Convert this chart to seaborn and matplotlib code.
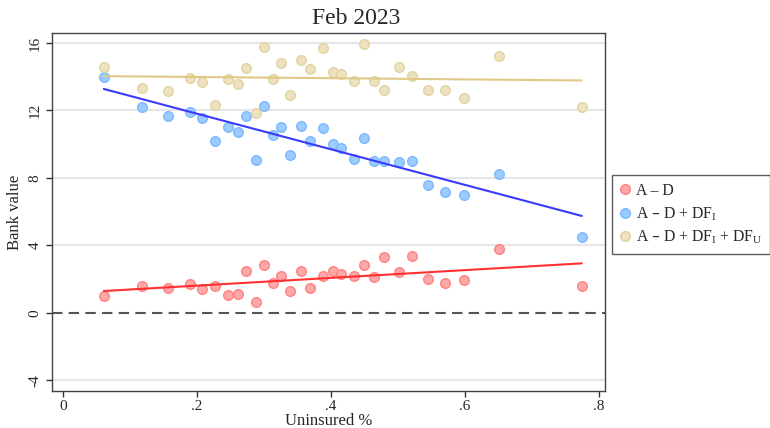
import numpy as np
import pandas as pd
import matplotlib.pyplot as plt
import seaborn as sns
from matplotlib.lines import Line2D

# uninsured share (x) and the three bank value series
uninsured = [0.061, 0.118, 0.157, 0.190, 0.207, 0.227, 0.247, 0.261, 0.274, 0.288,
             0.301, 0.313, 0.326, 0.339, 0.355, 0.369, 0.388, 0.403, 0.416, 0.434,
             0.450, 0.465, 0.480, 0.502, 0.522, 0.546, 0.571, 0.599, 0.651, 0.775]
a_minus_d = [0.99, 1.58, 1.46, 1.72, 1.42, 1.58, 1.07, 1.13, 2.47, 0.67,
             2.83, 1.74, 2.17, 1.30, 2.47, 1.48, 2.17, 2.51, 2.29, 2.19,
             2.83, 2.11, 3.30, 2.43, 3.40, 2.03, 1.76, 1.92, 3.77, 1.62]
plus_dfi = [13.99, 12.19, 11.69, 11.93, 11.56, 10.21, 11.02, 10.71, 11.65, 9.07,
            12.27, 10.55, 11.04, 9.38, 11.06, 10.19, 10.94, 10.00, 9.76, 9.15,
            10.35, 8.99, 9.00, 8.93, 9.00, 7.59, 7.15, 6.99, 8.22, 4.50]
plus_dfu = [14.60, 13.31, 13.16, 13.95, 13.71, 12.33, 13.87, 13.59, 14.54, 11.85,
            15.74, 13.85, 14.80, 12.90, 14.99, 14.46, 15.72, 14.28, 14.14, 13.77,
            15.96, 13.77, 13.19, 14.60, 14.02, 13.19, 13.19, 12.74, 15.25, 12.21]

labels = ["A – D", "A – D + DF$_{I}$", "A – D + DF$_{I}$ + DF$_{U}$"]
fills = ["#ffa8a8", "#9ccbff", "#ece2bf"]
edges = ["#ff8282", "#7cb8ff", "#e2d39f"]
lines = ["#ff3030", "#3a3aff", "#e0c887"]

df = pd.DataFrame({
    "x": uninsured * 3,
    "y": a_minus_d + plus_dfi + plus_dfu,
    "series": np.repeat(labels, len(uninsured)),
})

sns.set_theme(style="white")
plt.rcParams["font.family"] = ["Liberation Serif", "DejaVu Serif"]
plt.rcParams["mathtext.default"] = "regular"

fig = plt.figure(figsize=(7.7, 4.28), dpi=100)
ax = fig.add_axes([0.067, 0.087, 0.719, 0.835])

# grid + zero line
for yv in [-4, 4, 8, 12, 16]:
    ax.axhline(yv, color="#e6e6e6", lw=1.5, zorder=0)
ax.axhline(0, color="#555555", lw=1.5, ls=(0, (5, 3)), zorder=1)

for lab, fc, ec in zip(labels, fills, edges):
    sub = df[df["series"] == lab]
    sns.scatterplot(data=sub, x="x", y="y", color=fc, edgecolor=ec, linewidth=1,
                    s=48, ax=ax, zorder=2, legend=False)
for lab, lc in zip(labels, lines):
    sub = df[df["series"] == lab]
    sns.regplot(data=sub, x="x", y="y", scatter=False, ci=None, color=lc,
                line_kws=dict(lw=1.5, zorder=3), ax=ax)

ax.set_xlim(-0.017, 0.81)
ax.set_ylim(-4.62, 16.57)
ax.set_xticks([0, 0.2, 0.4, 0.6, 0.8])
ax.set_xticklabels(["0", ".2", ".4", ".6", ".8"])
ax.set_yticks([-4, 0, 4, 8, 12, 16])
ax.set_yticklabels(["-4", "0", "4", "8", "12", "16"], rotation=90, va="center")
ax.tick_params(axis="both", length=4, width=1, color="#333333", labelsize=11,
               direction="out", bottom=True, left=True, pad=3)
ax.set_xlabel("Uninsured %", fontsize=12, labelpad=0)
ax.set_ylabel("Bank value", fontsize=12, labelpad=4)
fig.text(356 / 770, 1 - 18 / 428, "Feb 2023", fontsize=17, ha="center", va="center")
for sp in ax.spines.values():
    sp.set_color("#444444")
    sp.set_linewidth(1)

leg_handles = [Line2D([], [], marker="o", ls="", markersize=7, markerfacecolor=fc,
                      markeredgecolor=ec, markeredgewidth=1)
               for fc, ec in zip(fills, edges)]
leg = fig.legend(leg_handles, labels, loc="upper left",
                 bbox_to_anchor=(612 / 770, 1 - 175 / 428), frameon=True,
                 fancybox=False, fontsize=11.3, handlelength=0.6, handletextpad=0.45,
                 borderpad=0.5, labelspacing=0.4, borderaxespad=0)
leg.get_frame().set_edgecolor("#333333")
leg.get_frame().set_linewidth(1)

fig.savefig("out.png", dpi=100)
